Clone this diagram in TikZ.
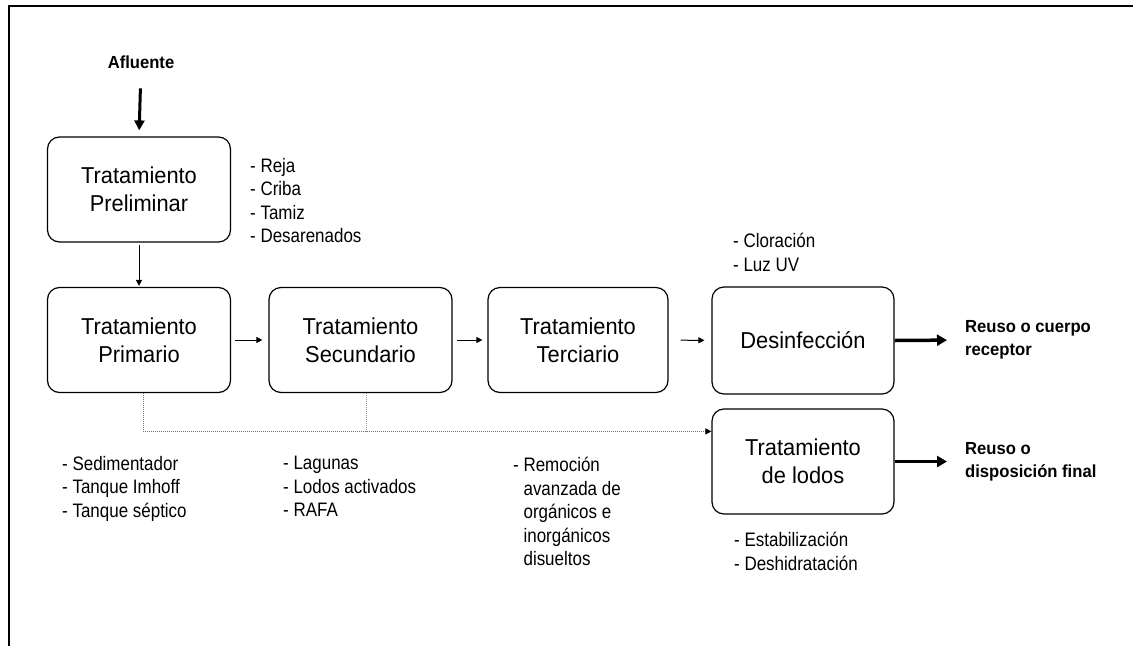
\documentclass[tikz,border=0pt]{standalone}
\usepackage{fontspec}
\setmainfont{Liberation Sans}
\newfontfamily\estrecha{Liberation Sans}[FakeStretch=0.87]
\newfontfamily\media{Liberation Sans}[FakeStretch=0.95]
\usepackage{tikz}
\usetikzlibrary{arrows.meta,positioning}
\tikzset{
  caja/.style={draw, line width=1.2pt, rounded corners=12pt, minimum width=183pt, minimum height=105pt, align=center, font=\media\fontsize{23}{28}\selectfont},
  lista/.style={anchor=north west, inner sep=0pt, align=left, font=\estrecha\fontsize{19.5}{23.5}\selectfont},
  salida/.style={anchor=west, inner sep=0pt, align=left, font=\media\bfseries\fontsize{17.5}{23}\selectfont},
  flecha/.style={-{Triangle[length=6pt,width=6pt]}, line width=1pt},
  gruesa/.style={-{Triangle[length=10pt,width=11pt]}, line width=3.5pt},
  lodo/.style={densely dotted, black!55, line width=1pt, -{Triangle[length=6pt,width=6pt,color=black]}}
}

\begin{document}
\begin{tikzpicture}[x=1pt, y=-1pt]
  \useasboundingbox (0,0) rectangle (1133,646);
  % Marco
  \draw[line width=1.6pt] (8,6) -- (1133,6);
  \draw[line width=1.2pt] (9,6) -- (9,646);

  % Cajas de tratamiento
  \node[caja] (prelim) at (139,189.5) {Tratamiento\\Preliminar};
  \node[caja] (prim) at (139,340) {Tratamiento\\Primario};
  \node[caja] (sec) at (360.5,340) {Tratamiento\\Secundario};
  \node[caja, minimum width=180pt] (ter) at (578,340) {Tratamiento\\Terciario};
  \node[caja, minimum width=182pt, minimum height=107pt] (desinf) at (803,340.5) {Desinfección};
  \node[caja, minimum width=182pt] (lodos) at (803,461.5) {Tratamiento\\de lodos};

  % Entrada y salidas
  \node[anchor=base, inner sep=0pt, font=\media\bfseries\fontsize{17.5}{23}\selectfont] (afl) at (141,68) {Afluente};
  \node[salida] (rec) at (965,340) {Reuso o cuerpo\\receptor};
  \node[salida] (disp) at (965,462) {Reuso o\\disposición final};

  % Listas de procesos
  \node[lista] (lprelim) at (250,158) {- Reja\\- Criba\\- Tamiz\\- Desarenados};
  \node[lista] (ldes) at (733,233) {- Cloración\\- Luz UV};
  \node[lista] (lprim) at (62,456) {- Sedimentador\\- Tanque Imhoff\\- Tanque séptico};
  \node[lista] (lsec) at (283,456) {- Lagunas\\- Lodos activados\\- RAFA};
  \node[lista] (lter) at (513,457) {- Remoción\\\phantom{- }avanzada de\\\phantom{- }orgánicos e\\\phantom{- }inorgánicos\\\phantom{- }disueltos};
  \node[lista] (llodos) at (734,532) {- Estabilización\\- Deshidratación};

  % Flujo principal
  \draw[line width=3pt, -{Triangle[length=10pt,width=10pt]}, shorten <=20pt, shorten >=6pt] (afl.south) -- (prelim.north);
  \draw[flecha, shorten <=2pt, shorten >=1pt] (prelim) -- (prim);
  \draw[flecha, shorten <=4pt, shorten >=6pt] (prim) -- (sec);
  \draw[flecha, shorten <=4pt, shorten >=5pt] (sec) -- (ter);
  \draw[flecha, shorten <=12pt, shorten >=7pt] (ter) -- (desinf);
  \draw[gruesa, shorten >=18pt] (desinf.east) -- (rec.west);
  \draw[gruesa, shorten >=18pt] (lodos.east) -- (lodos.east -| rec.west);

  % Lodos hacia su tratamiento
  \draw[lodo] ([xshift=4pt]prim.south) |- ([yshift=-23pt]lodos.north west);
  \draw[densely dotted, black!40, line width=1pt] ([xshift=6pt]sec.south) -- ++(0,40);
\end{tikzpicture}
\end{document}
